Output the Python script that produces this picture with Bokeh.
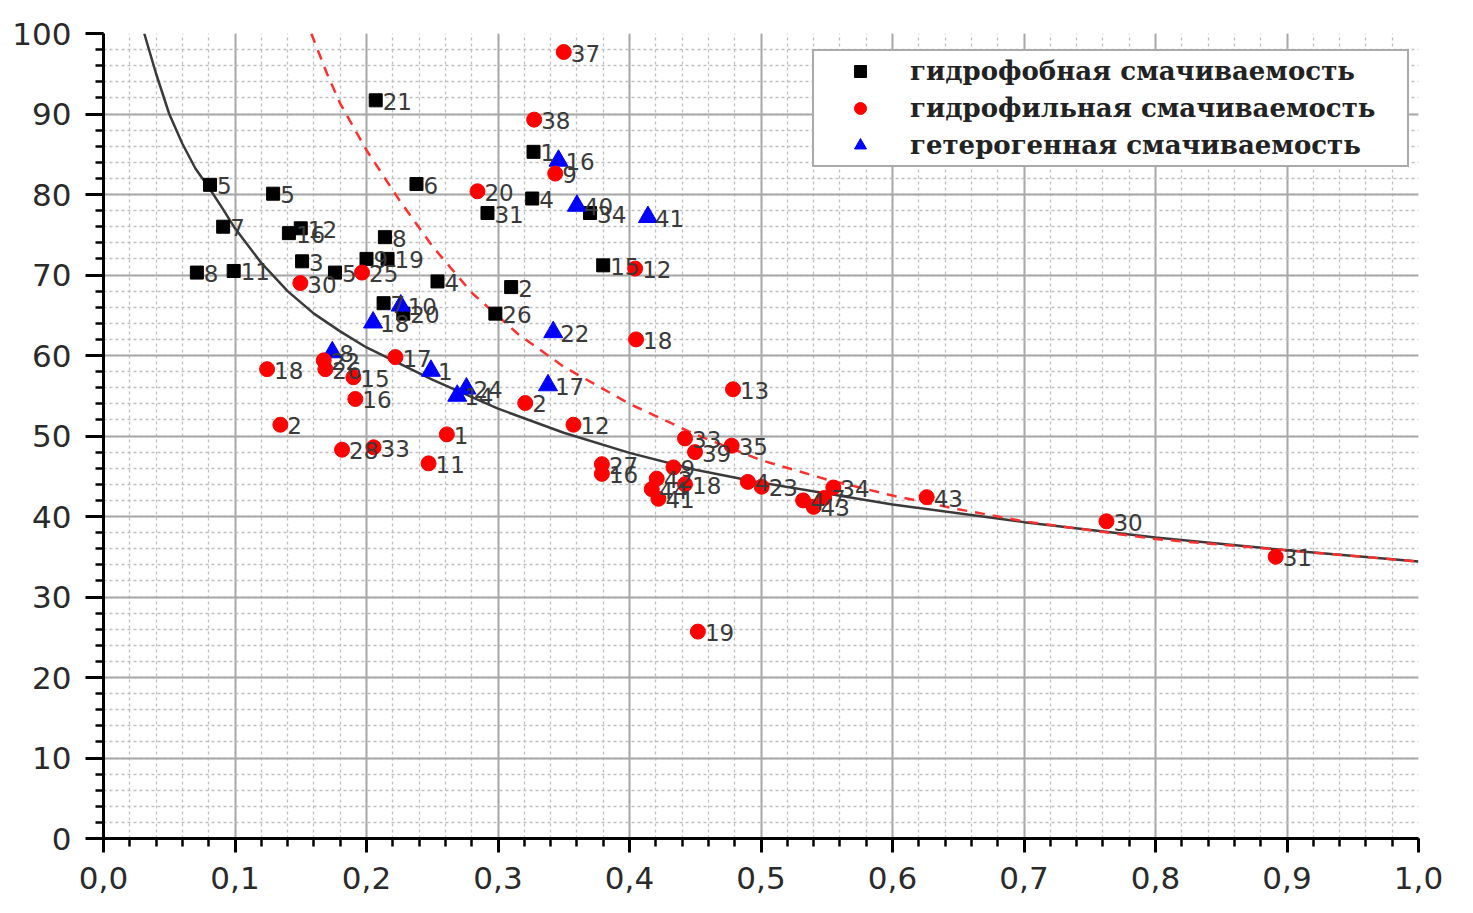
from bokeh.plotting import figure
from bokeh.models import (ColumnDataSource, FixedTicker, CustomJSTickFormatter,
                          Legend, LegendItem)
from bokeh.embed import file_html
from bokeh.resources import INLINE
from bokeh.core.properties import value

# ---------------- data ----------------
phob_x = [0.081, 0.129, 0.091, 0.141, 0.150, 0.151, 0.071, 0.099, 0.176, 0.207,
          0.238, 0.214, 0.200, 0.216, 0.254, 0.310, 0.298, 0.292, 0.326, 0.327,
          0.370, 0.380, 0.213, 0.228]
phob_y = [81.2, 80.1, 76.0, 75.2, 75.8, 71.7, 70.3, 70.5, 70.3, 91.7,
          81.3, 74.7, 72.0, 72.0, 69.2, 68.5, 65.2, 77.7, 79.5, 85.3,
          77.7, 71.2, 66.5, 65.2]
phob_lbl = ["5", "5", "7", "16", "12", "3", "8", "11", "5", "21",
            "6", "8", "9", "19", "4", "2", "26", "31", "4", "1",
            "34", "15", "7", "20"]

het_x = [0.346, 0.360, 0.414, 0.342, 0.338, 0.249, 0.276, 0.269, 0.174, 0.205, 0.226]
het_y = [84.2, 78.6, 77.2, 62.9, 56.3, 58.1, 55.9, 55.0, 60.4, 64.1, 66.2]
het_lbl = ["16", "40", "41", "22", "17", "1", "24", "14", "8", "18", "10"]

phil_x = [0.350, 0.3275, 0.3435, 0.2844, 0.4043, 0.1966, 0.1497, 0.405, 0.222, 0.1675,
          0.1687, 0.190, 0.1915, 0.1244, 0.1345, 0.1814, 0.2054, 0.2611, 0.2472, 0.3207,
          0.3574, 0.4787, 0.4422, 0.4777, 0.4498, 0.379, 0.379, 0.4334, 0.4207, 0.4169,
          0.422, 0.4422, 0.490, 0.5005, 0.532, 0.540, 0.548, 0.555, 0.626, 0.7627,
          0.8914, 0.452]
phil_y = [97.7, 89.3, 82.6, 80.4, 70.8, 70.3, 69.0, 62.0, 59.8, 59.4,
          58.3, 57.3, 54.6, 58.3, 51.4, 48.3, 48.6, 50.2, 46.6, 54.1,
          51.4, 55.8, 49.7, 48.8, 48.0, 46.5, 45.3, 46.1, 44.7, 43.4,
          42.2, 44.0, 44.3, 43.7, 42.0, 41.2, 42.3, 43.6, 42.4, 39.4,
          35.0, 25.7]
phil_lbl = ["37", "38", "9", "20", "12", "25", "30", "18", "17", "22",
            "26", "15", "16", "18", "2", "28", "33", "1", "11", "2",
            "12", "13", "33", "35", "39", "27", "16", "9", "42", "44",
            "41", "18", "4", "23", "4", "43", "7", "34", "43", "30",
            "31", "19"]

# fitted curves
fit1_x = [0.031, 0.040, 0.050, 0.060, 0.070, 0.080, 0.090, 0.100, 0.120, 0.140,
          0.160, 0.180, 0.200, 0.250, 0.300, 0.350, 0.400, 0.450, 0.500, 0.600,
          0.700, 0.800, 0.900, 1.000]
fit1_y = [100.0, 95.0, 90.0, 86.3, 83.2, 80.9, 78.4, 75.8, 71.5, 68.0,
          65.2, 63.0, 61.0, 57.0, 53.4, 50.4, 47.9, 45.8, 44.2, 41.5,
          39.3, 37.4, 35.8, 34.4]

fit2_x = [0.158, 0.170, 0.180, 0.200, 0.225, 0.250, 0.280, 0.315, 0.350, 0.400,
          0.450, 0.500, 0.550, 0.600, 0.650, 0.700, 0.800, 0.900, 1.000]
fit2_y = [100.0, 95.0, 91.3, 85.5, 79.3, 73.6, 67.8, 62.7, 58.6, 54.0,
          50.2, 47.0, 44.6, 42.6, 40.9, 39.4, 37.2, 35.8, 34.4]

x_ticks = [0.0, 0.1, 0.2, 0.3, 0.4, 0.5, 0.6, 0.7, 0.8, 0.9, 1.0]
x_minor = [round(i * 0.02, 2) for i in range(51)]
y_ticks = [0, 10, 20, 30, 40, 50, 60, 70, 80, 90, 100]
y_minor = [i * 2 for i in range(51)]

legend_labels = ["гидрофобная смачиваемость",
                 "гидрофильная смачиваемость",
                 "гетерогенная смачиваемость"]

# ---------------- figure ----------------
p = figure(width=1457, height=897, x_range=(0, 1), y_range=(0, 100),
           output_backend="svg", toolbar_location=None,
           min_border_left=103, min_border_right=39,
           min_border_top=33, min_border_bottom=59)
p.outline_line_color = None
p.background_fill_color = "white"

p.xaxis.ticker = FixedTicker(ticks=x_ticks, minor_ticks=x_minor)
p.yaxis.ticker = FixedTicker(ticks=y_ticks, minor_ticks=y_minor)
p.xaxis.formatter = CustomJSTickFormatter(code="return tick.toFixed(1).replace('.', ',');")

for ax in (p.xaxis[0], p.yaxis[0]):
    ax.axis_line_width = 3
    ax.axis_line_color = "black"
    ax.major_tick_line_width = 3
    ax.major_tick_line_color = "black"
    ax.major_tick_in = 0
    ax.minor_tick_line_width = 2.5
    ax.minor_tick_line_color = "black"
    ax.minor_tick_in = 0
    ax.minor_tick_out = 8
    ax.major_label_text_font = "DejaVu Sans"
    ax.major_label_text_font_size = "31px"
    ax.major_label_text_color = "#2a2a2a"
p.xaxis.major_tick_out = 14
p.yaxis.major_tick_out = 18
p.xaxis.major_label_standoff = 14
p.yaxis.major_label_standoff = 14

for g in (p.xgrid[0], p.ygrid[0]):
    g.grid_line_color = "#a8a8a8"
    g.grid_line_width = 2
    g.minor_grid_line_color = "#c0c0c0"
    g.minor_grid_line_width = 1.3
    g.minor_grid_line_dash = "3 3"

# curves
p.line(fit1_x, fit1_y, line_color="#3a3a3a", line_width=2.5)
p.line(fit2_x, fit2_y, line_color="#ff3030", line_width=2.5, line_dash="10 8")

src_phob = ColumnDataSource(dict(x=phob_x, y=phob_y, t=phob_lbl))
src_het = ColumnDataSource(dict(x=het_x, y=het_y, t=het_lbl))
src_phil = ColumnDataSource(dict(x=phil_x, y=phil_y, t=phil_lbl))

r1 = p.scatter(x="x", y="y", source=src_phob, marker="square", size=13,
               fill_color="black", line_color="black")
r3 = p.scatter(x="x", y="y", source=src_het, marker="triangle", size=19,
               fill_color="blue", line_color="blue")
r2 = p.scatter(x="x", y="y", source=src_phil, marker="circle", size=15,
               fill_color="red", line_color="red")

for src in (src_phob, src_het, src_phil):
    p.text(x="x", y="y", text="t", source=src, x_offset=7, y_offset=1,
           text_baseline="middle", text_align="left",
           text_font=value("DejaVu Sans"), text_font_size="23px",
           text_color="#3a3a3a")

legend = Legend(items=[LegendItem(label=legend_labels[0], renderers=[r1]),
                       LegendItem(label=legend_labels[1], renderers=[r2]),
                       LegendItem(label=legend_labels[2], renderers=[r3])],
                location=(709, 671), orientation="vertical",
                label_text_font="DejaVu Serif", label_text_font_style="bold",
                label_text_font_size="26px", label_text_color="#222222",
                glyph_width=82, glyph_height=30, label_height=30, label_width=492,
                label_standoff=9, padding=5, spacing=7, margin=0,
                border_line_color="#555555", border_line_width=2,
                background_fill_color="white", background_fill_alpha=1.0)
p.add_layout(legend)

open("out.html", "w").write(file_html(p, INLINE))
